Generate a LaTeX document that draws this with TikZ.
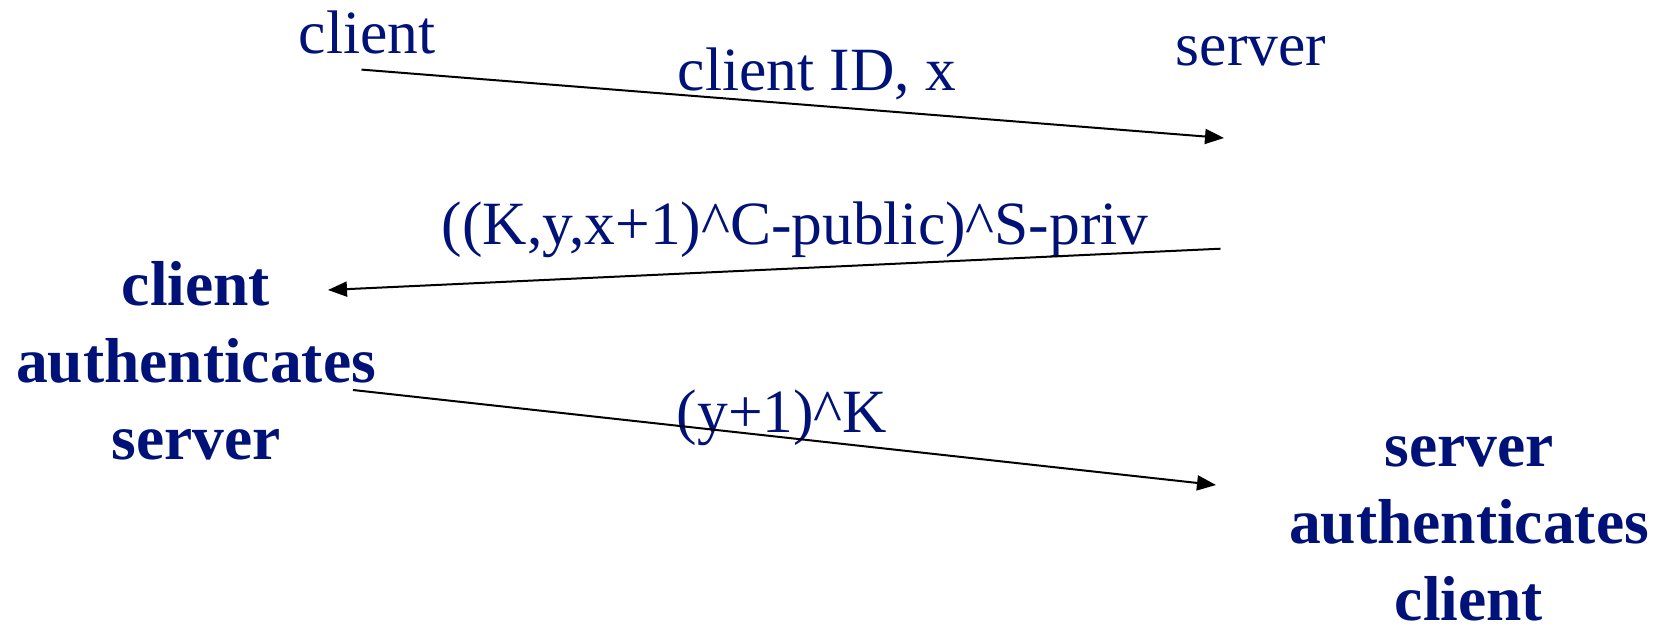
\documentclass[tikz,border=0pt]{standalone}
\usepackage{fontspec}
\setmainfont{Liberation Serif}
\usetikzlibrary{arrows.meta}
\definecolor{navy}{RGB}{0,18,120}
\tikzset{
  lbl/.style={text=navy, inner sep=0pt, anchor=base, font=\fontsize{61.5}{77}\selectfont},
  boldlbl/.style={text=navy, inner sep=0pt, anchor=base, align=center, font=\fontsize{63.5}{77}\selectfont\bfseries},
  msg/.style={draw=black, line width=2pt, -{Triangle[length=19pt,width=15pt]}}
}
\begin{document}
\begin{tikzpicture}[x=1pt,y=-1pt]
\useasboundingbox (0,0) rectangle (1653,626);
% parties
\node[lbl] (client) at (367,53) {client};
\node[lbl] (server) at (1251,65) {server};
\node[boldlbl] (cauth) at (196,459) {client\\authenticates\\server};
\node[boldlbl] (sauth) at (1469,620) {server\\authenticates\\client};
% message labels
\node[lbl] (m1) at (817,90) {client ID, x};
\node[lbl] (m2) at (795,244) {((K,y,x+1)\^{}C-public)\^{}S-priv};
\node[lbl] (m3) at (782,432) {(y+1)\^{}K};
% arrow ends
\coordinate (a1s) at (361.5,69.6);
\coordinate (a1e) at (1224,138);
\coordinate (a2s) at (1220.5,248.7);
\coordinate (a2e) at (328,290);
\coordinate (a3s) at (353,390);
\coordinate (a3e) at (1216,485);
\draw[msg] (a1s) -- (a1e);
\draw[msg] (a2s) -- (a2e);
\draw[msg] (a3s) -- (a3e);
\end{tikzpicture}
\end{document}
